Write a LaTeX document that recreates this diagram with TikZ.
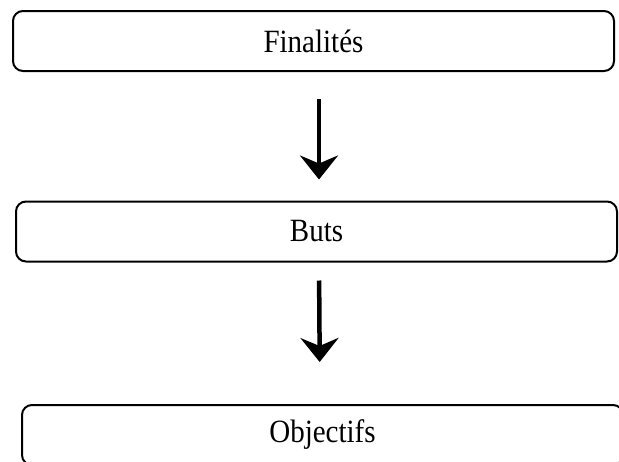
\documentclass[tikz,border=0pt]{standalone}
\usepackage{fontspec}
\setmainfont{Liberation Serif}
\usetikzlibrary{arrows.meta}

\begin{document}
\begin{tikzpicture}[x=1pt,y=-1pt,
    boite/.style={draw, line width=2pt, rounded corners=10pt, minimum width=601pt, minimum height=60pt, font=\fontsize{29}{34}\selectfont},
    fleche/.style={line width=4.5pt, -{Stealth[length=24pt,width=38pt,inset=8pt]}}]
    \useasboundingbox (0,0) rectangle (619,461);
    \clip (0,0) rectangle (619,461);
    \node[boite] (finalites) at (313.5,41) {\scalebox{1}[1.12]{Finalit\'es}};
    \node[boite] (buts) at (316.5,231.5) {\scalebox{1}[1.12]{Buts}};
    \node[boite, anchor=north west] (objectifs) at (21,404) {\raisebox{-4pt}{\scalebox{1}[1.12]{Objectifs}}};
    % fleches entre les niveaux
    \draw[fleche, shorten <=27pt, shorten >=21pt] ([xshift=5.5pt]finalites.south) -- ([xshift=2.5pt]buts.north);
    \draw[fleche, shorten <=18pt, shorten >=42pt] ([xshift=2.5pt]buts.south) -- ([xshift=-2.5pt]objectifs.north);
\end{tikzpicture}
\end{document}
